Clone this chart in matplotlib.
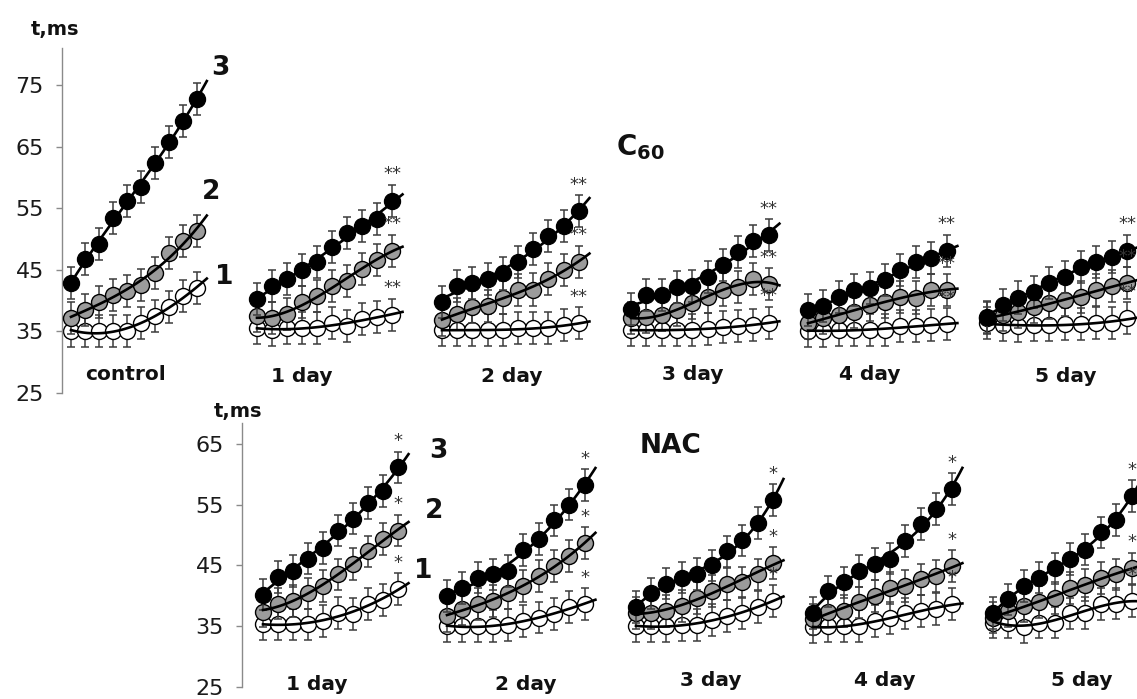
import numpy as np
import matplotlib.pyplot as plt

W, H = 1137, 699

# ---------------- C60 panel (top), t in ms, 10 points per curve ----------------
c60_ctrl_1 = [35.0, 35.0, 35.0, 35.0, 35.0, 36.3, 37.5, 39.0, 40.7, 42.0]
c60_ctrl_2 = [37.1, 38.5, 39.8, 40.9, 41.5, 42.6, 44.5, 47.8, 49.6, 51.3]
c60_ctrl_3 = [42.8, 46.7, 49.2, 53.4, 56.1, 58.4, 62.4, 65.8, 69.2, 72.7]

c60_d1_1 = [35.5, 35.3, 35.5, 35.5, 35.5, 36.3, 35.9, 37.0, 37.4, 37.7]
c60_d1_2 = [37.5, 37.1, 37.8, 39.7, 40.7, 42.4, 43.2, 45.2, 46.6, 48.1]
c60_d1_3 = [40.2, 42.3, 43.5, 44.9, 46.2, 48.7, 51.0, 52.1, 53.2, 56.2]

c60_d2_1 = [35.2, 35.2, 35.2, 35.2, 35.2, 35.5, 35.5, 35.5, 36.0, 36.3]
c60_d2_2 = [36.9, 37.8, 38.9, 39.1, 40.5, 41.7, 41.8, 43.5, 45.0, 46.3]
c60_d2_3 = [39.8, 42.3, 42.8, 43.5, 44.4, 46.3, 48.3, 50.5, 52.1, 54.5]

c60_d3_1 = [35.2, 35.2, 35.2, 35.3, 35.2, 35.4, 35.7, 35.8, 36.0, 36.4]
c60_d3_2 = [37.1, 37.3, 37.7, 38.5, 39.6, 40.6, 41.8, 42.2, 43.5, 42.7]
c60_d3_3 = [38.6, 40.9, 40.9, 42.2, 42.3, 43.9, 45.8, 47.9, 49.6, 50.6]

c60_d4_1 = [35.1, 35.1, 35.2, 35.2, 35.2, 35.3, 35.8, 35.8, 36.0, 36.2]
c60_d4_2 = [36.3, 37.1, 37.7, 38.2, 39.3, 39.8, 40.6, 40.5, 41.7, 41.7]
c60_d4_3 = [38.5, 39.1, 40.6, 41.7, 42.0, 43.3, 44.9, 46.2, 46.9, 48.1]

c60_d5_1 = [36.3, 36.0, 35.9, 36.0, 36.0, 36.2, 36.2, 36.3, 36.4, 37.1]
c60_d5_2 = [37.1, 37.7, 38.2, 38.9, 39.6, 40.1, 40.6, 41.7, 42.4, 42.8]
c60_d5_3 = [37.4, 39.3, 40.5, 41.4, 42.9, 43.9, 45.5, 46.3, 47.1, 48.1]

# ---------------- NAC panel (bottom) ----------------
nac_d1_1 = [35.3, 35.3, 35.3, 35.3, 35.9, 37.2, 37.0, 38.6, 39.3, 41.1]
nac_d1_2 = [37.4, 38.7, 39.1, 40.4, 41.6, 43.5, 45.2, 47.3, 49.3, 50.7]
nac_d1_3 = [40.2, 43.1, 44.1, 46.1, 47.9, 50.7, 52.7, 55.3, 57.2, 61.1]

nac_d2_1 = [35.0, 35.0, 35.0, 35.0, 35.2, 35.9, 36.4, 37.0, 38.1, 38.6]
nac_d2_2 = [36.7, 37.8, 38.6, 39.1, 40.5, 41.6, 43.2, 44.9, 46.5, 48.7]
nac_d2_3 = [40.0, 41.3, 43.0, 43.5, 44.1, 47.5, 49.3, 52.4, 55.0, 58.2]

nac_d3_1 = [35.0, 35.0, 35.0, 35.2, 35.2, 36.0, 36.7, 37.2, 38.2, 39.1]
nac_d3_2 = [37.2, 37.1, 37.5, 38.3, 39.6, 40.8, 41.9, 42.2, 43.5, 45.4]
nac_d3_3 = [38.1, 40.4, 42.0, 43.0, 43.6, 45.0, 47.3, 49.1, 52.0, 55.7]

nac_d4_1 = [34.8, 35.0, 35.0, 35.0, 35.9, 36.3, 37.1, 37.5, 37.8, 38.6]
nac_d4_2 = [36.1, 37.4, 37.5, 38.9, 40.0, 41.3, 41.6, 42.7, 43.2, 44.9]
nac_d4_3 = [37.2, 40.7, 42.2, 44.1, 45.2, 46.1, 49.0, 51.8, 54.3, 57.5]

nac_d5_1 = [35.6, 35.6, 34.8, 35.6, 35.6, 37.1, 37.2, 38.6, 38.7, 39.1]
nac_d5_2 = [36.4, 37.5, 38.3, 39.0, 39.6, 41.3, 41.8, 42.9, 43.5, 44.5]
nac_d5_3 = [37.2, 39.4, 41.6, 43.0, 44.5, 46.0, 47.6, 50.4, 52.5, 56.4]

c60_labels = ['control', '1 day', '2 day', '3 day', '4 day', '5 day']
nac_labels = ['1 day', '2 day', '3 day', '4 day', '5 day']
c60_stars = ['', '**', '**', '**', '**', '**']
nac_stars = ['*', '*', '*', '*', '*']

err = 2.6   # s.e.m., about the same for every point

c60_groups = [(c60_ctrl_1, c60_ctrl_2, c60_ctrl_3), (c60_d1_1, c60_d1_2, c60_d1_3),
              (c60_d2_1, c60_d2_2, c60_d2_3), (c60_d3_1, c60_d3_2, c60_d3_3),
              (c60_d4_1, c60_d4_2, c60_d4_3), (c60_d5_1, c60_d5_2, c60_d5_3)]
nac_groups = [(nac_d1_1, nac_d1_2, nac_d1_3), (nac_d2_1, nac_d2_2, nac_d2_3),
              (nac_d3_1, nac_d3_2, nac_d3_3), (nac_d4_1, nac_d4_2, nac_d4_3),
              (nac_d5_1, nac_d5_2, nac_d5_3)]

# layout: where each group starts on the page (px) and point spacing
c60_x0 = [71, 257, 442, 631, 808, 987]
c60_dx = [14.0, 15.0, 15.2, 15.3, 15.4, 15.6]
nac_x0 = [263, 447, 636, 813, 993]
nac_dx = [15.0, 15.3, 15.2, 15.4, 15.4]

faces = ['white', '#9b9b9b', 'black']
font = 'DejaVu Sans'


def fx(px):
    return px / W


def fy(py):
    return 1 - py / H


def draw_panel(ax, groups, x0s, dxs, stars):
    for series, x0, dx, star in zip(groups, x0s, dxs, stars):
        for k, vals in enumerate(series):
            y = np.array(vals)
            x = x0 + dx * np.arange(len(y))
            z = 2 + k
            ax.errorbar(x, y, yerr=err, fmt='none', ecolor='#3c3c3c',
                        elinewidth=1.1, capsize=3.2, capthick=1.1, zorder=z,
                        clip_on=False)
            ax.plot(x, y, 'o', ms=11.5, mfc=faces[k], mec='black', mew=1.0,
                    zorder=z + 0.5, clip_on=False)
            # polynomial trend line, a bit past the last point
            p = np.polyfit(x, y, 3)
            xf = np.linspace(x[0], x[-1] + 0.7 * dx, 60)
            ax.plot(xf, np.polyval(p, xf), color='black', lw=1.9, zorder=8,
                    clip_on=False)
            if star:
                ax.annotate(star, (x[-1], y[-1] + err), xytext=(0, 1),
                            textcoords='offset points', ha='center', va='bottom',
                            fontsize=13, color='#333333', family=font, zorder=9,
                            annotation_clip=False)


def style_axis(ax, ticks):
    for s in ['top', 'right', 'bottom']:
        ax.spines[s].set_visible(False)
    ax.spines['left'].set_color('#8a8a8a')
    ax.spines['left'].set_linewidth(1.0)
    ax.set_xticks([])
    ax.set_yticks(ticks)
    ax.tick_params(axis='y', direction='out', length=4, width=1, color='#8a8a8a',
                   labelsize=16, labelcolor='#1a1a1a', pad=9)
    for t in ax.get_yticklabels():
        t.set_family(font)
    ax.patch.set_alpha(0)


fig = plt.figure(figsize=(W / 100, H / 100), dpi=100)

# top axes: y axis line at x=62 px, 25 at y=393 px, top at y=48 px
ax1 = fig.add_axes([fx(62), fy(393), fx(W - 62), (393 - 48) / H])
ax1.set_xlim(62, W)
ax1.set_ylim(25, 81)
style_axis(ax1, [25, 35, 45, 55, 65, 75])
draw_panel(ax1, c60_groups, c60_x0, c60_dx, c60_stars)

# bottom axes: y axis line at x=242 px, 25 at y=687 px, top at y=423 px
ax2 = fig.add_axes([fx(242), fy(687), fx(W - 242), (687 - 423) / H])
ax2.set_xlim(242, W)
ax2.set_ylim(25, 68.4)
style_axis(ax2, [25, 35, 45, 55, 65])
draw_panel(ax2, nac_groups, nac_x0, nac_dx, nac_stars)

bold = dict(family=font, fontweight='bold', color='#111111')

fig.text(fx(55), fy(29), 't,ms', ha='center', va='center', fontsize=14, **bold)
fig.text(fx(238), fy(411), 't,ms', ha='center', va='center', fontsize=14, **bold)

# curve numbers
for txt, px, py in [('3', 220, 68), ('2', 211, 192), ('1', 224, 277),
                    ('3', 438, 451), ('2', 434, 511), ('1', 423, 571)]:
    fig.text(fx(px), fy(py), txt, ha='center', va='center', fontsize=19, **bold)

fig.text(fx(640), fy(147), r'C$_{\mathbf{60}}$', ha='center', va='center',
         fontsize=20, **bold)
fig.text(fx(670), fy(446), 'NAC', ha='center', va='center', fontsize=19, **bold)

c60_lab_pos = [(126, 374), (302, 377), (512, 377), (693, 374), (870, 375), (1066, 377)]
for lab, (px, py) in zip(c60_labels, c60_lab_pos):
    fig.text(fx(px), fy(py), lab, ha='center', va='center', fontsize=14.5, **bold)

nac_lab_pos = [(317, 684), (526, 684), (711, 681), (885, 681), (1082, 681)]
for lab, (px, py) in zip(nac_labels, nac_lab_pos):
    fig.text(fx(px), fy(py), lab, ha='center', va='center', fontsize=14.5, **bold)

fig.savefig('out.png', dpi=100, facecolor='white')
